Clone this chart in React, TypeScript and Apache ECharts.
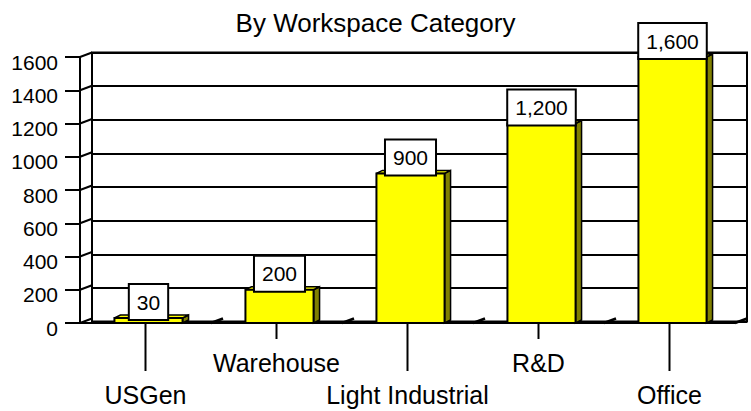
import React, { useEffect, useRef } from "react";
import * as echarts from "echarts";

const TITLE = "By Workspace Category";
const CATEGORIES = ["USGen", "Warehouse", "Light Industrial", "R&D", "Office"];
const VALUES = [30, 200, 900, 1200, 1600];
const Y_TICKS = [0, 200, 400, 600, 800, 1000, 1200, 1400, 1600];
const Y_MIN = 0;
const Y_MAX = 1600;
const Y_STEP = 200;

const FONT = "'Liberation Sans', Arial, Helvetica, sans-serif";
// 3D depth offsets (layout)
const DX = 12;
const DY = -4.5;
const BAR_DX = 6;
const BAR_DY = -3;
const BAR_SHIFT = 3;
const BAR_RATIO = 0.52;

export default function App() {
  const ref = useRef<HTMLDivElement>(null);

  useEffect(() => {
    const chart = echarts.init(ref.current as HTMLDivElement, null, { renderer: "svg" });

    const option: any = {
      animation: false,
      backgroundColor: "#fff",
      title: {
        text: TITLE,
        left: "center",
        top: 3,
        textStyle: {
          fontFamily: FONT,
          fontSize: 26,
          fontWeight: "normal",
          color: "#000",
          lineHeight: 30,
        },
      },
      grid: [
        { left: 80, right: 16, top: 57, bottom: 85 },
        {
          left: 92,
          right: 4,
          top: 52.5,
          bottom: 89.5,
          show: true,
          borderColor: "#000",
          borderWidth: 2,
          backgroundColor: "#fff",
        },
      ],
      xAxis: [
        {
          gridIndex: 0,
          type: "category",
          data: CATEGORIES,
          boundaryGap: true,
          axisLine: { show: true, lineStyle: { color: "#000", width: 2 } },
          axisTick: { show: false },
          splitLine: { show: false },
          axisLabel: {
            interval: 0,
            margin: 24,
            fontFamily: FONT,
            fontSize: 25,
            color: "#000",
            lineHeight: 32,
            formatter: (v: string, i: number) => (i % 2 === 0 ? "\n" + v : v),
          },
        },
        { gridIndex: 1, type: "value", show: false, min: 0, max: 1 },
      ],
      yAxis: [
        {
          gridIndex: 0,
          type: "value",
          min: Y_MIN,
          max: Y_MAX,
          interval: Y_STEP,
          axisLine: { show: true, lineStyle: { color: "#000", width: 2 } },
          axisTick: { show: true, length: 15, lineStyle: { color: "#000", width: 2 } },
          axisLabel: {
            margin: 22,
            fontFamily: FONT,
            fontSize: 21,
            color: "#000",
            verticalAlign: "top",
            lineHeight: 10,
            formatter: (v: number) => String(v),
          },
          splitLine: { show: false },
        },
        {
          gridIndex: 1,
          type: "value",
          min: Y_MIN,
          max: Y_MAX,
          interval: Y_STEP,
          axisLine: { show: false },
          axisTick: { show: false },
          axisLabel: { show: false },
          splitLine: { show: true, lineStyle: { color: "#000", width: 2 } },
        },
      ],
      series: [
        {
          type: "custom",
          name: "wall connectors",
          xAxisIndex: 0,
          yAxisIndex: 0,
          silent: true,
          data: Y_TICKS.map((v) => [0, v]),
          encode: { x: 0, y: 1 },
          renderItem: (params: any, api: any) => {
            const y = api.coord([0, api.value(1)])[1];
            const x = params.coordSys.x;
            return {
              type: "line",
              shape: { x1: x, y1: y, x2: x + DX, y2: y + DY },
              style: { stroke: "#000", lineWidth: 2 },
            };
          },
        },
        {
          type: "custom",
          name: "Workspace",
          xAxisIndex: 0,
          yAxisIndex: 0,
          silent: true,
          data: VALUES.map((v, i) => [i, v]),
          encode: { x: 0, y: 1 },
          renderItem: (params: any, api: any) => {
            const i = api.value(0);
            const v = api.value(1);
            const top = api.coord([i, v]);
            const base = api.coord([i, 0]);
            const band = api.size([1, 0])[0];
            const cx = top[0] + BAR_SHIFT;
            const w = band * BAR_RATIO;
            const x0 = cx - w / 2;
            const x1 = cx + w / 2;
            const yT = top[1];
            const yB = base[1];
            const leaderLen = i % 2 === 0 ? 48 : 16;
            const bx = top[0] + band / 2;
            return {
              type: "group",
              children: [
                {
                  type: "line",
                  shape: { x1: bx, y1: yB, x2: bx + DX, y2: yB + DY },
                  style: { stroke: "#000", lineWidth: 2.5 },
                },
                {
                  type: "line",
                  shape: { x1: top[0], y1: yB, x2: top[0], y2: yB + leaderLen },
                  style: { stroke: "#000", lineWidth: 2 },
                },
                {
                  type: "polygon",
                  shape: {
                    points: [
                      [x1, yT],
                      [x1 + BAR_DX, yT + BAR_DY],
                      [x1 + BAR_DX, yB + BAR_DY],
                      [x1, yB],
                    ],
                  },
                  style: { fill: "#808000", stroke: "#000", lineWidth: 1.5 },
                },
                {
                  type: "polygon",
                  shape: {
                    points: [
                      [x0, yT],
                      [x0 + BAR_DX, yT + BAR_DY],
                      [x1 + BAR_DX, yT + BAR_DY],
                      [x1, yT],
                    ],
                  },
                  style: { fill: "#FFFF00", stroke: "#000", lineWidth: 1.5 },
                },
                {
                  type: "rect",
                  shape: { x: x0, y: yT, width: w, height: yB - yT },
                  style: { fill: "#FFFF00", stroke: "#000", lineWidth: 2 },
                },
                {
                  type: "text",
                  x: cx,
                  y: yT + 1,
                  z2: 10,
                  style: {
                    text: Number(v).toLocaleString("en-US"),
                    fontFamily: FONT,
                    fontSize: 21,
                    fill: "#000",
                    align: "center",
                    verticalAlign: "bottom",
                    lineHeight: 24,
                    backgroundColor: "#fff",
                    borderColor: "#000",
                    borderWidth: 2,
                    padding: [5, 7, 5, 7],
                  },
                },
              ],
            };
          },
        },
      ],
    };

    chart.setOption(option);
    return () => chart.dispose();
  }, []);

  return (
    <div
      ref={ref}
      style={{ position: "fixed", left: 0, top: 0, width: 751, height: 411, background: "#fff" }}
    />
  );
}
